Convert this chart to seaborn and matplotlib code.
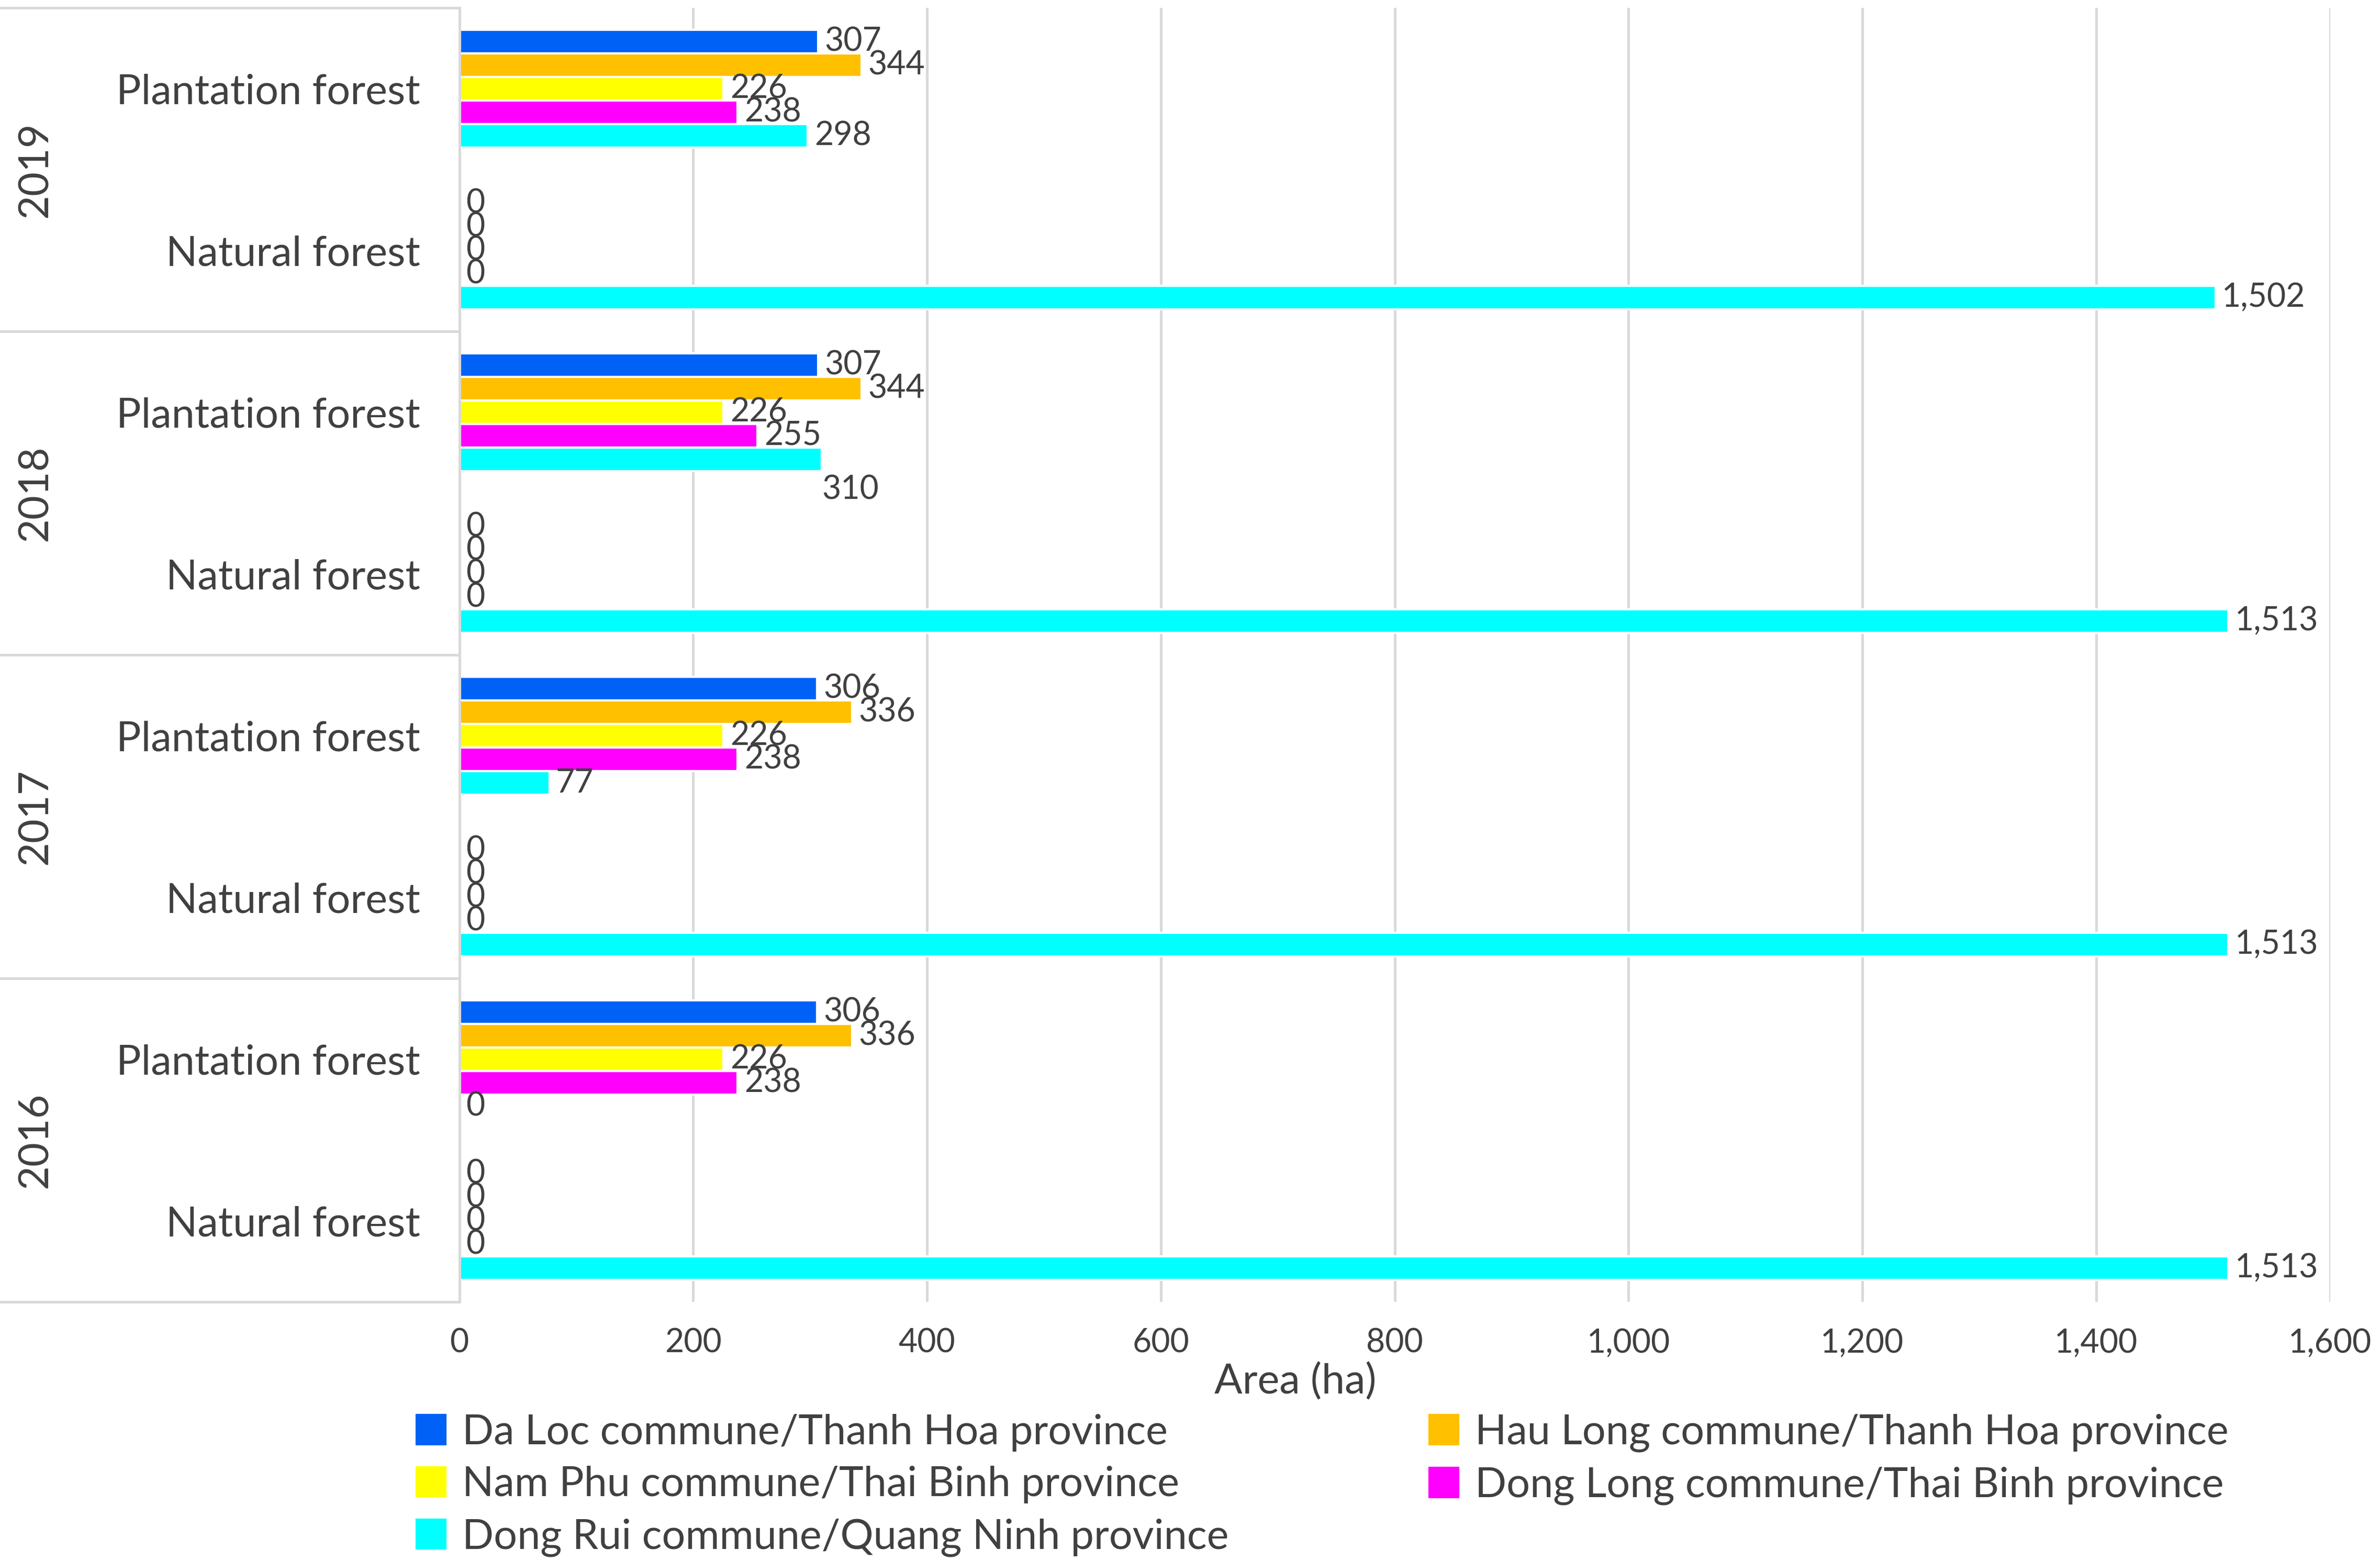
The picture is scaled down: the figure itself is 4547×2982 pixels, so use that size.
import matplotlib.pyplot as plt
import matplotlib.transforms as mtransforms
import pandas as pd
import seaborn as sns
from matplotlib.ticker import FuncFormatter

# data (rows top to bottom)
years = ['2019', '2018', '2017', '2016']
forest_types = ['Plantation forest', 'Natural forest']
sites = ['Da Loc commune/Thanh Hoa province',
         'Hau Long commune/Thanh Hoa province',
         'Nam Phu commune/Thai Binh province',
         'Dong Long commune/Thai Binh province',
         'Dong Rui commune/Quang Ninh province']
da_loc = [307, 0, 307, 0, 306, 0, 306, 0]
hau_long = [344, 0, 344, 0, 336, 0, 336, 0]
nam_phu = [226, 0, 226, 0, 226, 0, 226, 0]
dong_long = [238, 0, 255, 0, 238, 0, 238, 0]
dong_rui = [298, 1502, 310, 1513, 77, 1513, 0, 1513]
colors = ['#0061F7', '#FFC000', '#FFFF00', '#FF00FF', '#00FFFF']
x_ticks = [0, 200, 400, 600, 800, 1000, 1200, 1400, 1600]

rows = [f'{y} {f}' for y in years for f in forest_types]
records = []
for site, vals in zip(sites, [da_loc, hau_long, nam_phu, dong_long, dong_rui]):
    for r, v in zip(rows, vals):
        records.append({'row': r, 'site': site, 'value': v})
df = pd.DataFrame(records)

sns.set_style('white')
plt.rcParams['font.family'] = ['Lato', 'DejaVu Sans']
txt = '#404040'

fig = plt.figure(figsize=(4547 / 300, 2982 / 300), dpi=300)
ax = fig.add_axes([0.193, 0.166, 0.786, 0.829])

sns.barplot(data=df, y='row', x='value', hue='site', order=rows, hue_order=sites,
            palette=colors, orient='h', width=0.73, saturation=1, ax=ax, legend=False,
            errorbar=None)

ax.set_xlim(0, 1600)
ax.set_ylim(7.5, -0.5)
ax.set_xticks(x_ticks)
ax.xaxis.set_major_formatter(FuncFormatter(lambda v, p: f'{v:,.0f}'))
ax.set_yticks(range(len(rows)))
ax.set_yticklabels([f for y in years for f in forest_types])
ax.tick_params(axis='y', length=0, pad=18, labelsize=19, labelcolor=txt)
ax.tick_params(axis='x', length=0, pad=12, labelsize=15, labelcolor=txt)
ax.set_ylabel('')
ax.set_xlabel('Area (ha)', fontsize=19, color=txt)
ax.xaxis.set_label_coords(0.447, -0.047)
ax.grid(axis='x', color='#d9d9d9', linewidth=1.2)
ax.set_axisbelow(True)
for s in ['top', 'right', 'bottom']:
    ax.spines[s].set_visible(False)
ax.spines['left'].set_color('#d9d9d9')
ax.spines['left'].set_linewidth(1.2)

# data labels
for i, cont in enumerate(ax.containers):
    anns = ax.bar_label(cont, labels=[f'{v:,.0f}' for v in df[df.site == sites[i]].value],
                        padding=3, fontsize=15, color=txt)
    if i == 4:
        # Excel placed the 2018 plantation label below its bar
        anns[2].xyann = (0, -14)

# year labels and group separators
trans = mtransforms.blended_transform_factory(fig.transFigure, ax.transData)
for k, y in enumerate(years):
    ax.text(0.015, 2 * k + 0.5, y, transform=trans, rotation=90, ha='center', va='center',
            fontsize=19, color=txt)
for yy in [-0.5, 1.5, 3.5, 5.5, 7.5]:
    ax.plot([0, 0.193], [yy, yy], transform=trans, color='#d9d9d9', linewidth=1.2,
            clip_on=False)

handles = [plt.Rectangle((0, 0), 1, 1, color=c) for c in colors]
order = [0, 2, 4, 1, 3]
fig.legend([handles[i] for i in order], [sites[i] for i in order], ncol=2,
           loc='upper left', bbox_to_anchor=(0.168, 0.105), frameon=False,
           fontsize=19, labelcolor=txt, handlelength=0.7, handleheight=0.7,
           handletextpad=0.4, columnspacing=4.85, labelspacing=0.35, borderaxespad=0)

fig.savefig('out.png', dpi=300)
